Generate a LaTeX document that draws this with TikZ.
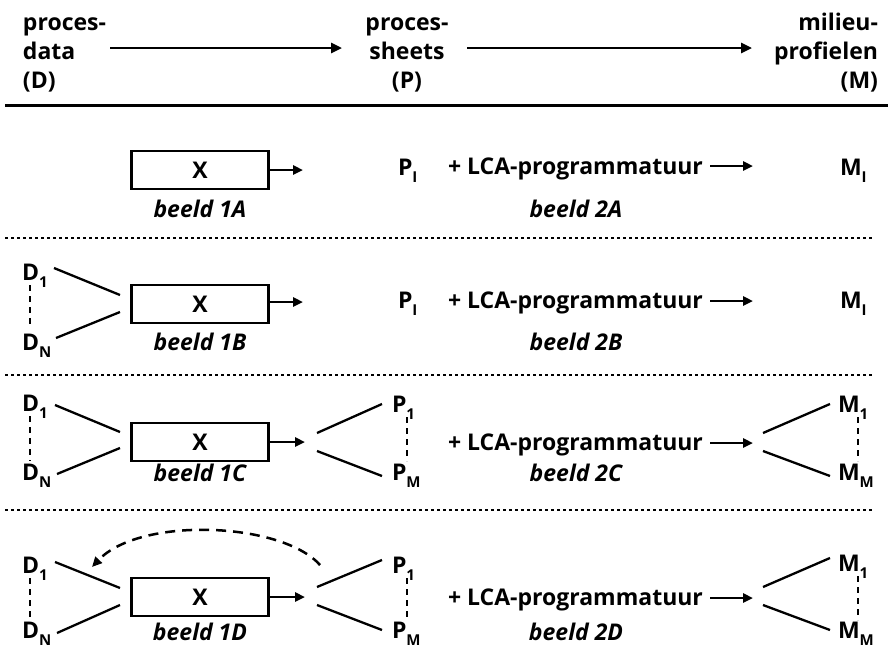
\documentclass[tikz,border=0pt]{standalone}
\usepackage{fontspec}
\setmainfont{Open Sans}
\usetikzlibrary{arrows.meta}
\newcommand\sbx[1]{\raisebox{-0.32em}{\fontsize{15}{15}\selectfont #1}}
\begin{document}
\begin{tikzpicture}[x=1pt,y=-1pt,
  font=\fontsize{23}{28}\selectfont\bfseries,
  every node/.style={inner sep=0pt,outer sep=0pt},
  lbl/.style={anchor=base west},
  lblc/.style={anchor=base},
  lble/.style={anchor=base east},
  capt/.style={anchor=base,font=\fontsize{23}{28}\selectfont\bfseries\itshape},
  xbox/.style={draw,line width=2.5pt,minimum width=137pt,minimum height=38pt},
  harrow/.style={line width=2.6pt,-{Triangle[length=11pt,width=10pt]}},
  barrow/.style={line width=2.6pt,-{Triangle[length=10pt,width=9pt]}},
  fan/.style={line width=2.3pt},
  vdash/.style={line width=2.2pt,dash pattern=on 6pt off 5pt},
  sep/.style={line width=1.7pt,dash pattern=on 3pt off 3pt},
  back/.style={line width=2.5pt,dash pattern=on 10pt off 7pt,-{Triangle[length=10pt,width=9pt]}}
]
\useasboundingbox (0,0) rectangle (892,649);
% header
\node[lbl] (hD1) at (23,30) {proces-};
\node[lbl] (hD2) at (23,59) {data};
\node[lbl] (hD3) at (23,88) {(D)};
\node[lblc] (hP1) at (407,30) {proces-};
\node[lblc] (hP2) at (407,59) {sheets};
\node[lblc] (hP3) at (407,88) {(P)};
\node[lble] (hM1) at (878,30) {milieu-};
\node[lble] (hM2) at (878,59) {profielen};
\node[lble] (hM3) at (878,88) {(M)};
\coordinate (ha1s) at (110,48);
\coordinate (ha1e) at (342,48);
\coordinate (ha2s) at (467,48);
\coordinate (ha2e) at (752,48);
\draw[harrow] (ha1s) -- (ha1e);
\draw[harrow] (ha2s) -- (ha2e);
\coordinate (rl) at (5,105);
\coordinate (rr) at (888,105);
\draw[line width=3pt] (rl) -- (rr);
% separators
\coordinate (s1l) at (5,238); \coordinate (s1r) at (873,238);
\coordinate (s2l) at (5,375); \coordinate (s2r) at (873,375);
\coordinate (s3l) at (5,510); \coordinate (s3r) at (873,510);
\draw[sep] (s1l) -- (s1r);
\draw[sep] (s2l) -- (s2r);
\draw[sep] (s3l) -- (s3r);

% ---------- row A ----------
\node[xbox] (XA) at (200,170) {X};
\node[capt] (b1A) at (200,217) {beeld 1A};
\coordinate (tA) at (303,170);
\draw[barrow] (XA.east) -- (tA);
\node[lbl] (PA) at (398,175) {P\sbx{I}};
\node[lbl] (LA) at (448,174) {+ LCA-programmatuur};
\coordinate (lAs) at (710,166); \coordinate (lAe) at (753,166);
\draw[barrow] (lAs) -- (lAe);
\node[lbl] (MA) at (840,175) {M\sbx{I}};
\node[capt] (b2A) at (576,217) {beeld 2A};

% ---------- row B ----------
\node[lbl] (D1B) at (22,280) {D\sbx{1}};
\node[lbl] (DNB) at (22,350) {D\sbx{N}};
\coordinate (dBt) at (30,285); \coordinate (dBb) at (30,328);
\draw[vdash] (dBt) -- (dBb);
\node[xbox] (XB) at (200,304) {X};
\coordinate (fB1s) at (54,268); \coordinate (fB1e) at (120,295);
\coordinate (fB2s) at (56,338); \coordinate (fB2e) at (120,312);
\draw[fan] (fB1s) -- (fB1e);
\draw[fan] (fB2s) -- (fB2e);
\node[capt] (b1B) at (200,350) {beeld 1B};
\coordinate (tB) at (303,302);
\draw[barrow] (XB.east |- tB) -- (tB);
\node[lbl] (PB) at (398,308) {P\sbx{I}};
\node[lbl] (LB) at (448,308) {+ LCA-programmatuur};
\coordinate (lBs) at (710,301); \coordinate (lBe) at (753,301);
\draw[barrow] (lBs) -- (lBe);
\node[lbl] (MB) at (840,308) {M\sbx{I}};
\node[capt] (b2B) at (576,350) {beeld 2B};

% ---------- row C ----------
\node[lbl] (D1C) at (22,411) {D\sbx{1}};
\node[lbl] (DNC) at (22,480) {D\sbx{N}};
\coordinate (dCt) at (30,416); \coordinate (dCb) at (30,461);
\draw[vdash] (dCt) -- (dCb);
\node[xbox] (XC) at (200,442) {X};
\coordinate (fC1s) at (55,405); \coordinate (fC1e) at (120,432);
\coordinate (fC2s) at (57,474); \coordinate (fC2e) at (120,448);
\draw[fan] (fC1s) -- (fC1e);
\draw[fan] (fC2s) -- (fC2e);
\node[capt] (b1C) at (200,481) {beeld 1C};
\coordinate (tC) at (305,442);
\draw[barrow] (XC.east) -- (tC);
\coordinate (gC1s) at (317,433); \coordinate (gC1e) at (382,404);
\coordinate (gC2s) at (317,451); \coordinate (gC2e) at (382,476);
\draw[fan] (gC1s) -- (gC1e);
\draw[fan] (gC2s) -- (gC2e);
\node[lbl] (P1C) at (392,412) {P\sbx{1}};
\node[lbl] (PMC) at (392,480) {P\sbx{M}};
\coordinate (pCt) at (407,417); \coordinate (pCb) at (407,461);
\draw[vdash] (pCt) -- (pCb);
\node[lbl] (LC) at (448,450) {+ LCA-programmatuur};
\coordinate (lCs) at (710,443); \coordinate (lCe) at (753,443);
\draw[barrow] (lCs) -- (lCe);
\coordinate (mC1s) at (763,433); \coordinate (mC1e) at (830,404);
\coordinate (mC2s) at (763,451); \coordinate (mC2e) at (830,476);
\draw[fan] (mC1s) -- (mC1e);
\draw[fan] (mC2s) -- (mC2e);
\node[lbl] (M1C) at (838,412) {M\sbx{1}};
\node[lbl] (MMC) at (838,480) {M\sbx{M}};
\coordinate (qCt) at (858,417); \coordinate (qCb) at (858,461);
\draw[vdash] (qCt) -- (qCb);
\node[capt] (b2C) at (576,481) {beeld 2C};

% ---------- row D ----------
\node[lbl] (D1D) at (22,573) {D\sbx{1}};
\node[lbl] (DND) at (22,638) {D\sbx{N}};
\coordinate (dDt) at (30,578); \coordinate (dDb) at (30,620);
\draw[vdash] (dDt) -- (dDb);
\node[xbox] (XD) at (200,597) {X};
\coordinate (fD1s) at (55,562); \coordinate (fD1e) at (120,588);
\coordinate (fD2s) at (57,633); \coordinate (fD2e) at (120,605);
\draw[fan] (fD1s) -- (fD1e);
\draw[fan] (fD2s) -- (fD2e);
\node[capt] (b1D) at (200,640) {beeld 1D};
\coordinate (tD) at (305,597);
\draw[barrow] (XD.east) -- (tD);
\coordinate (gD1s) at (317,587); \coordinate (gD1e) at (382,560);
\coordinate (gD2s) at (317,605); \coordinate (gD2e) at (382,630);
\draw[fan] (gD1s) -- (gD1e);
\draw[fan] (gD2s) -- (gD2e);
\node[lbl] (P1D) at (392,573) {P\sbx{1}};
\node[lbl] (PMD) at (392,638) {P\sbx{M}};
\coordinate (pDt) at (407,578); \coordinate (pDb) at (407,620);
\draw[vdash] (pDt) -- (pDb);
\node[lbl] (LD) at (448,605) {+ LCA-programmatuur};
\coordinate (lDs) at (710,598); \coordinate (lDe) at (753,598);
\draw[barrow] (lDs) -- (lDe);
\coordinate (mD1s) at (763,587); \coordinate (mD1e) at (830,558);
\coordinate (mD2s) at (763,605); \coordinate (mD2e) at (830,630);
\draw[fan] (mD1s) -- (mD1e);
\draw[fan] (mD2s) -- (mD2e);
\node[lbl] (M1D) at (838,571) {M\sbx{1}};
\node[lbl] (MMD) at (838,638) {M\sbx{M}};
\coordinate (qDt) at (858,576); \coordinate (qDb) at (858,620);
\draw[vdash] (qDt) -- (qDb);
\node[capt] (b2D) at (576,640) {beeld 2D};
% feedback arrow
\coordinate (fbS) at (320,565);
\coordinate (fbE) at (92,567);
\draw[back] (fbS) .. controls (282,522) and (140,516) .. (fbE);
\end{tikzpicture}
\end{document}
